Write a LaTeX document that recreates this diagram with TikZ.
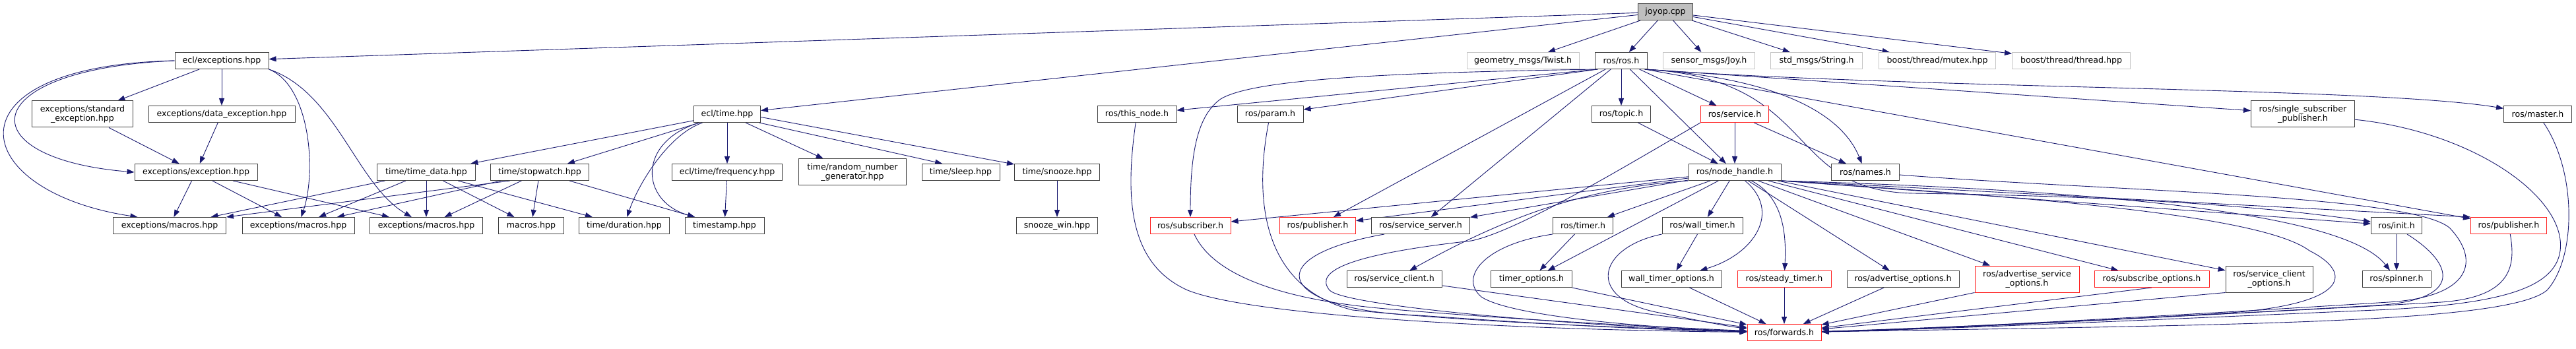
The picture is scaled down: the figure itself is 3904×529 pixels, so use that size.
\documentclass[tikz,border=0pt]{standalone}
\usepackage{fontspec}
\setmainfont{DejaVu Sans}
\usetikzlibrary{arrows.meta, calc}
\definecolor{edgeBlue}{RGB}{25, 25, 112}
\definecolor{boxGray}{RGB}{64, 64, 64}
\definecolor{extGray}{RGB}{196, 196, 196}
\definecolor{rootGray}{RGB}{191, 191, 191}
\definecolor{cutRed}{RGB}{255, 30, 30}
\pgfdeclarelayer{edges}
\pgfsetlayers{edges,main}

\begin{document}
\begin{tikzpicture}[
    x=1pt, y=-1pt,
    font=\fontsize{12.6}{14.5}\selectfont,
    >={Triangle[length=11pt, width=8pt]},
    % Styles
    file/.style={
        draw=boxGray, line width=1pt, fill=white, minimum height=25, inner sep=1pt
    },
    redfile/.style={file, draw=cutRed},
    extfile/.style={file, draw=extGray},
    rootfile/.style={file, fill=rootGray},
    twoline/.style={align=center, minimum height=40},
    dep/.style={->, draw=edgeBlue, line width=0.9pt}
]
    \useasboundingbox (0,0) rectangle (3904,529);

    % --- 1. Root and direct includes ---
    \node[rootfile, minimum width=83] (joy) at (2524,18) {joyop.cpp};
    \node[file, minimum width=142] (eexc) at (336,92) {ecl/exceptions.hpp};
    \node[extfile, minimum width=170] (twist) at (2308,92) {geometry\_msgs/Twist.h};
    \node[file, minimum width=79] (rosh) at (2457,92) {ros/ros.h};
    \node[extfile, minimum width=139] (joyh) at (2590,92) {sensor\_msgs/Joy.h};
    \node[extfile, minimum width=139] (strh) at (2753,92) {std\_msgs/String.h};
    \node[extfile, minimum width=177] (mutex) at (2936,92) {boost/thread/mutex.hpp};
    \node[extfile, minimum width=179] (thread) at (3139,92) {boost/thread/thread.hpp};

    % --- 2. Second level ---
    \node[file, twoline, minimum width=153] (stdexc) at (125,173) {exceptions/standard\\\_exception.hpp};
    \node[file, minimum width=222] (dataexc) at (336,173) {exceptions/data\_exception.hpp};
    \node[file, minimum width=101] (etime) at (1102,173) {ecl/time.hpp};
    \node[file, minimum width=120] (thisnode) at (1723,173) {ros/this\_node.h};
    \node[file, minimum width=100] (param) at (1925,173) {ros/param.h};
    \node[file, minimum width=89] (topic) at (2457,173) {ros/topic.h};
    \node[redfile, minimum width=103] (service) at (2629,173) {ros/service.h};
    \node[file, twoline, minimum width=157] (ssp) at (3490,173) {ros/single\_subscriber\\\_publisher.h};
    \node[file, minimum width=103] (master) at (3846,173) {ros/master.h};

    % --- 3. Third level ---
    \node[file, minimum width=186] (exc) at (297,261) {exceptions/exception.hpp};
    \node[file, minimum width=149] (tdata) at (646,261) {time/time\_data.hpp};
    \node[file, minimum width=149] (swatch) at (818,261) {time/stopwatch.hpp};
    \node[file, minimum width=167] (freq) at (1102,261) {ecl/time/frequency.hpp};
    \node[file, twoline, minimum width=163] (rng) at (1292,261) {time/random\_number\\\_generator.hpp};
    \node[file, minimum width=118] (sleep) at (1456,261) {time/sleep.hpp};
    \node[file, minimum width=129] (snooze) at (1602,261) {time/snooze.hpp};
    \node[file, minimum width=140] (nh) at (2629,261) {ros/node\_handle.h};
    \node[file, minimum width=103] (names) at (2827,261) {ros/names.h};

    % --- 4. Fourth level ---
    \node[file, minimum width=171] (macA) at (257,342) {exceptions/macros.hpp};
    \node[file, minimum width=170] (macB) at (452,342) {exceptions/macros.hpp};
    \node[file, minimum width=171] (macC) at (646,342) {exceptions/macros.hpp};
    \node[file, minimum width=99] (macros) at (805,342) {macros.hpp};
    \node[file, minimum width=137] (dur) at (946,342) {time/duration.hpp};
    \node[file, minimum width=120] (tstamp) at (1098,342) {timestamp.hpp};
    \node[file, minimum width=123] (swin) at (1602,342) {snooze\_win.hpp};
    \node[redfile, minimum width=122] (sub) at (1804,342) {ros/subscriber.h};
    \node[redfile, minimum width=115] (pubA) at (1997,342) {ros/publisher.h};
    \node[file, minimum width=149] (ssrv) at (2153,342) {ros/service\_server.h};
    \node[file, minimum width=91] (timer) at (2399,342) {ros/timer.h};
    \node[file, minimum width=122] (wtimer) at (2580,342) {ros/wall\_timer.h};
    \node[file, minimum width=77] (init) at (3632,342) {ros/init.h};
    \node[redfile, minimum width=115] (pubB) at (3802,342) {ros/publisher.h};

    % --- 5. Options level ---
    \node[file, minimum width=144] (sclient) at (2113,423) {ros/service\_client.h};
    \node[file, minimum width=123] (topt) at (2321,423) {timer\_options.h};
    \node[file, minimum width=152] (wtopt) at (2533,423) {wall\_timer\_options.h};
    \node[redfile, minimum width=142] (steady) at (2704,423) {ros/steady\_timer.h};
    \node[file, minimum width=170] (advopt) at (2884,423) {ros/advertise\_options.h};
    \node[redfile, twoline, minimum width=158] (asopt) at (3072,423) {ros/advertise\_service\\\_options.h};
    \node[redfile, minimum width=174] (subopt) at (3261,423) {ros/subscribe\_options.h};
    \node[file, twoline, minimum width=132] (scopt) at (3439,423) {ros/service\_client\\\_options.h};
    \node[file, minimum width=104] (spinner) at (3632,423) {ros/spinner.h};

    % --- 6. Bottom ---
    \node[redfile, minimum width=112] (fwd) at (2704,504) {ros/forwards.h};

    \begin{pgfonlayer}{edges}
    \fill[white] (0,0) rectangle (3904,529);

    % --- joyop.cpp includes ---
    \draw[dep] (joy) -- (eexc);
    \draw[dep] (joy) -- (etime);
    \draw[dep] (joy) -- (twist);
    \draw[dep] (joy) -- (rosh);
    \draw[dep] (joy) -- (joyh);
    \draw[dep] (joy) -- (strh);
    \draw[dep] (joy) -- (mutex);
    \draw[dep] (joy) -- (thread);

    % --- ecl/exceptions.hpp ---
    \draw[dep] (eexc.west) .. controls (-40,105) and (-50,240) .. (exc.west);
    \draw[dep] (eexc.west) .. controls (-90,100) and (-50,290) .. (macA.165);
    \draw[dep] (eexc) -- (stdexc);
    \draw[dep] (eexc) -- (dataexc);
    \draw[dep] (eexc.south east) .. controls (470,130) and (480,260) .. (macB);
    \draw[dep] (eexc.south east) .. controls (510,140) and (540,280) .. (macC);
    \draw[dep] (stdexc) -- (exc);
    \draw[dep] (dataexc) -- (exc);
    \draw[dep] (exc) -- (macA);
    \draw[dep] (exc) -- (macB);
    \draw[dep] (exc) -- (macC);

    % --- ecl/time.hpp ---
    \draw[dep] (etime) -- (tdata);
    \draw[dep] (etime) -- (swatch);
    \draw[dep] (etime) .. controls (1010,205) and (965,285) .. (dur);
    \draw[dep] (etime) .. controls (965,215) and (970,305) .. (tstamp);
    \draw[dep] (etime) -- (freq);
    \draw[dep] (etime) -- (rng);
    \draw[dep] (etime.-15) -- (sleep.155);
    \draw[dep] (etime.-5) -- (snooze);
    \draw[dep] (freq) -- (tstamp);
    \draw[dep] (snooze) -- (swin);

    % time_data / stopwatch
    \draw[dep] (tdata) -- (macA);
    \draw[dep] (tdata) -- (macB);
    \draw[dep] (tdata) -- (macC);
    \draw[dep] (tdata) -- (macros);
    \draw[dep] (tdata) -- (dur);
    \draw[dep] ($(swatch.south)+(-45,0)$) -- (macA.north east);
    \draw[dep] (swatch) -- (macB);
    \draw[dep] (swatch) -- (macC);
    \draw[dep] (swatch) -- (macros);
    \draw[dep] (swatch) -- (tstamp);

    % --- ros/ros.h ---
    \draw[dep] (rosh.200) -- (thisnode);
    \draw[dep] (rosh.200) .. controls (2100,110) and (1900,120) .. (1850,150)
        .. controls (1815,175) and (1804,230) .. (sub);
    \draw[dep] (rosh.200) -- (param);
    \draw[dep] (rosh) -- (pubA);
    \draw[dep] (rosh) -- (ssrv);
    \draw[dep] (rosh) -- (topic);
    \draw[dep] (rosh) -- (nh);
    \draw[dep] (rosh) -- (service);
    \draw[dep] (rosh.-20) .. controls (2690,118) and (2790,170) .. (names);
    \draw[dep] (rosh.-20) -- (ssp);
    \draw[dep] (rosh.-20) .. controls (2900,135) and (3600,132) .. (master);
    \draw[dep] (rosh.-20) -- (pubB);
    \draw[dep] (rosh.-20) .. controls (2760,120) and (2700,290) .. (2900,293)
        .. controls (3250,298) and (3450,315) .. (init);

    % --- ros/topic.h, ros/service.h ---
    \draw[dep] (topic) -- (nh);
    \draw[dep] (service) -- (nh);
    \draw[dep] (service) -- (names);
    \draw[dep] (service.south west) .. controls (2450,260) and (2300,350) .. (2230,365)
        .. controls (2050,385) and (1990,410) .. (2015,440)
        .. controls (2040,465) and (2400,495) .. (fwd);

    % --- ros/node_handle.h ---
    \draw[dep] (nh) -- (sub);
    \draw[dep] (nh) -- (pubA);
    \draw[dep] (nh) -- (ssrv);
    \draw[dep] (nh.south west) .. controls (2400,285) and (2280,330) .. (sclient);
    \draw[dep] (nh) -- (timer);
    \draw[dep] (nh) -- (topt);
    \draw[dep] (nh) -- (wtimer);
    \draw[dep] (nh) .. controls (2700,320) and (2660,385) .. (wtopt);
    \draw[dep] (nh) .. controls (2705,300) and (2707,360) .. (steady);
    \draw[dep] (nh) -- (advopt);
    \draw[dep] (nh) -- (asopt);
    \draw[dep] (nh) -- (subopt);
    \draw[dep] (nh) -- (scopt);
    \draw[dep] (nh.south east) -- (init);
    \draw[dep] (nh.south east) -- (pubB.north west);
    \draw[dep] (nh.south east) .. controls (3250,290) and (3560,330) .. (spinner);
    \draw[dep] (nh.south east) .. controls (3000,295) and (3420,320) .. (3500,380)
        .. controls (3570,415) and (3560,465) .. (3350,476)
        .. controls (3100,490) and (2900,500) .. (fwd);

    % timers
    \draw[dep] (timer) -- (topt);
    \draw[dep] (wtimer) -- (wtopt);
    \draw[dep] (init) -- (spinner);

    % --- everything into ros/forwards.h ---
    \draw[dep] (thisnode) .. controls (1705,300) and (1710,400) .. (1800,440)
        .. controls (1900,480) and (2300,500) .. (fwd);
    \draw[dep] (sub) .. controls (1840,420) and (1950,455) .. (2100,468)
        .. controls (2300,485) and (2500,495) .. (fwd);
    \draw[dep] (param) .. controls (1895,330) and (1930,440) .. (2050,470)
        .. controls (2250,490) and (2500,498) .. (fwd);
    \draw[dep] ($(ssrv.south)+(-55,0)$) .. controls (1900,390) and (1940,470) .. (2150,478)
        .. controls (2350,492) and (2500,500) .. (fwd);
    \draw[dep] (sclient) -- (fwd);
    \draw[dep] (timer.south west) .. controls (2250,370) and (2210,420) .. (2245,450)
        .. controls (2290,480) and (2500,497) .. (fwd);
    \draw[dep] (topt) -- (fwd);
    \draw[dep] (wtimer.south west) .. controls (2420,375) and (2400,455) .. (2520,475)
        .. controls (2580,487) and (2620,495) .. (fwd);
    \draw[dep] (wtopt) -- (fwd);
    \draw[dep] (steady) -- (fwd);
    \draw[dep] (advopt) -- (fwd);
    \draw[dep] (asopt.south west) -- (fwd);
    \draw[dep] (subopt.south) -- (fwd);
    \draw[dep] (scopt.south west) -- (fwd);
    \draw[dep] ($(init.south)+(16,0)$) .. controls (3720,400) and (3735,455) .. (3600,463)
        .. controls (3300,480) and (2950,498) .. (fwd);
    \draw[dep] (pubB) .. controls (3812,400) and (3810,450) .. (3700,458)
        .. controls (3350,478) and (2950,497) .. (fwd);
    \draw[dep] (names) .. controls (3200,290) and (3650,295) .. (3712,345)
        .. controls (3760,395) and (3745,450) .. (3620,458)
        .. controls (3300,478) and (2950,498) .. (fwd);
    \draw[dep] (ssp) .. controls (3750,200) and (3890,300) .. (3880,380)
        .. controls (3872,440) and (3780,462) .. (3600,470)
        .. controls (3300,483) and (2950,499) .. (fwd);
    \draw[dep] (master) .. controls (3905,260) and (3905,390) .. (3860,440)
        .. controls (3800,490) and (3400,492) .. (fwd);
    \end{pgfonlayer}

\end{tikzpicture}
\end{document}
